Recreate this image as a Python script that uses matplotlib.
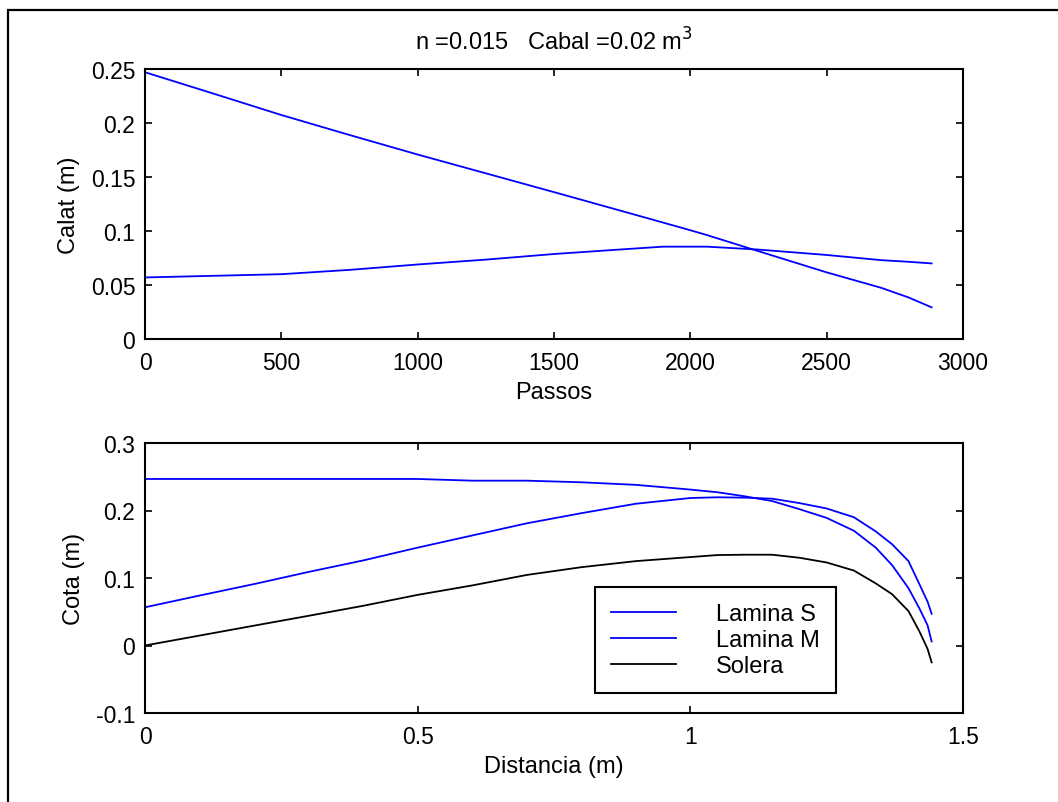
import matplotlib
matplotlib.use("Agg")
import matplotlib.pyplot as plt
from matplotlib.patches import Rectangle
from matplotlib.ticker import FuncFormatter

plt.rcParams['font.family'] = ['Liberation Sans', 'DejaVu Sans']

# ---- Top panel data: depth (Calat) vs steps (Passos)
passos = [0, 250, 500, 750, 1000, 1250, 1500, 1750, 1900, 2000, 2060, 2250, 2500, 2700, 2800, 2885]
calat_s = [0.247, 0.2273, 0.2074, 0.1889, 0.1708, 0.1534, 0.1360, 0.1184, 0.1078, 0.1007,
           0.0963, 0.0813, 0.0617, 0.0474, 0.0385, 0.0293]
calat_m = [0.057, 0.0585, 0.0600, 0.0640, 0.0690, 0.0735, 0.0787, 0.0830, 0.0855, 0.0855,
           0.0855, 0.0828, 0.0778, 0.0730, 0.0715, 0.0700]

# ---- Bottom panel data: elevation (Cota) vs distance
distancia = [0, 0.1, 0.2, 0.3, 0.4, 0.5, 0.6, 0.7, 0.8, 0.9, 1.0, 1.05, 1.1, 1.15, 1.2,
             1.25, 1.3, 1.34, 1.37, 1.4, 1.42, 1.435, 1.4425]
lamina_s = [0.2467, 0.2467, 0.2467, 0.2467, 0.2467, 0.2467, 0.2442, 0.2442, 0.2418, 0.238,
            0.231, 0.227, 0.221, 0.214, 0.202, 0.189, 0.170, 0.145, 0.119, 0.085, 0.055,
            0.030, 0.006]
lamina_m = [0.0566, 0.074, 0.091, 0.109, 0.126, 0.145, 0.163, 0.181, 0.196, 0.210,
            0.2185, 0.2196, 0.219, 0.2175, 0.211, 0.203, 0.190, 0.169, 0.150, 0.125, 0.091,
            0.065, 0.047]
solera = [0.0, 0.0147, 0.0294, 0.044, 0.0588, 0.075, 0.089, 0.1045, 0.116, 0.125,
          0.131, 0.134, 0.1345, 0.1345, 0.130, 0.123, 0.111, 0.092, 0.076, 0.051, 0.021,
          -0.005, -0.025]

legend_labels = ['Lamina S', 'Lamina M', 'Solera']
title_text = 'n =0.015   Cabal =0.02 m$^3$'

W, H = 1058, 803
fig = plt.figure(figsize=(W / 100, H / 100), dpi=100)

# figure border (top & left visible)
fig.patches.append(Rectangle((8 / W, -0.1), 1.2, 1.1 - 11 / H, transform=fig.transFigure,
                             fill=False, edgecolor='black', linewidth=1.6, zorder=0))

left = 145 / W
width = 818 / W
ax1 = fig.add_axes([left, 1 - 340 / H, width, 270 / H])
ax2 = fig.add_axes([left, 1 - 714 / H, width, 270 / H])

fmt = FuncFormatter(lambda v, p: ('%g' % round(v, 4)))
fs = 17
tfs = 16.5

for ax in (ax1, ax2):
    for sp in ax.spines.values():
        sp.set_linewidth(1.5)
    ax.tick_params(direction='in', top=True, right=True, length=5, width=1.2,
                   labelsize=tfs, pad=7)
    ax.tick_params(axis='x', pad=9)
    ax.xaxis.set_major_formatter(fmt)
    ax.yaxis.set_major_formatter(fmt)

ax1.plot(passos, calat_s, color='#0000ff', lw=1.3)
ax1.plot(passos, calat_m, color='#0000ff', lw=1.3)
ax1.set_xlim(0, 3000)
ax1.set_ylim(0, 0.25)
ax1.set_xticks([0, 500, 1000, 1500, 2000, 2500, 3000])
ax1.set_yticks([0, 0.05, 0.1, 0.15, 0.2, 0.25])
ax1.set_xlabel('Passos', fontsize=fs, labelpad=5)
ax1.set_ylabel('Calat (m)', fontsize=fs, labelpad=8)
ax1.set_title(title_text, fontsize=fs, pad=14)

ax2.plot(distancia, lamina_s, color='#0000ff', lw=1.3, label=legend_labels[0])
ax2.plot(distancia, lamina_m, color='#0000ff', lw=1.3, label=legend_labels[1])
ax2.plot(distancia, solera, color='black', lw=1.3, label=legend_labels[2])
ax2.set_xlim(0, 1.5)
ax2.set_ylim(-0.1, 0.3)
ax2.set_xticks([0, 0.5, 1, 1.5])
ax2.set_yticks([-0.1, 0, 0.1, 0.2, 0.3])
ax2.set_xlabel('Distancia (m)', fontsize=fs, labelpad=5)
ax2.set_ylabel('Cota (m)', fontsize=fs, labelpad=8)

leg = ax2.legend(loc='upper left', bbox_to_anchor=((595 - 145) / 818, (714 - 588) / 270),
                 fontsize=fs, frameon=True, fancybox=False, framealpha=1,
                 edgecolor='black', handlelength=2.75, handletextpad=1.7,
                 borderpad=0.67, labelspacing=0.18, borderaxespad=0)
leg.get_frame().set_linewidth(1.5)

fig.savefig('out.png', dpi=100)
